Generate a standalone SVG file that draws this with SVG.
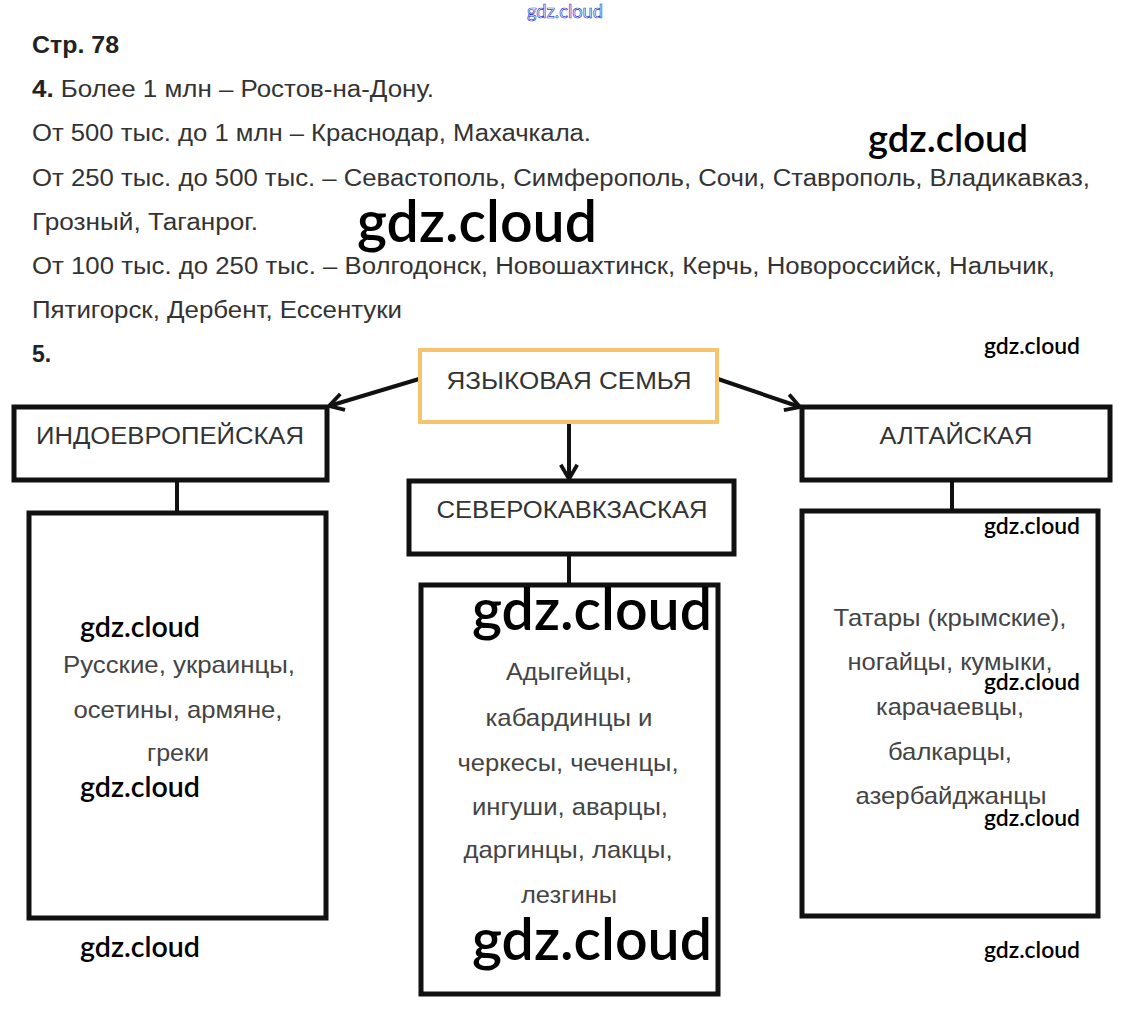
<svg xmlns="http://www.w3.org/2000/svg" width="1129" height="1025" viewBox="0 0 1129 1025">
<style>
  .t{font-family:"Liberation Sans",Arial,sans-serif;font-size:23px;fill:#333}
  .b{font-weight:bold;fill:#222}
  .lbl{font-family:"Liberation Sans",Arial,sans-serif;font-size:23px;fill:#333;text-anchor:middle}
  .in{font-family:"Liberation Sans",Arial,sans-serif;font-size:24px;fill:#444;text-anchor:middle}
  .box{fill:#fff;stroke:#111;stroke-width:5}
  .top{fill:#fff;stroke:#f6c46c;stroke-width:4}
  .con{stroke:#111;stroke-width:4;fill:none}
  .wm{font-family:Lato,"Open Sans",sans-serif;font-weight:600;fill:#000}
</style>
<defs>
  <marker id="ah" viewBox="0 0 12 12" refX="11" refY="6" markerWidth="9" markerHeight="9" markerUnits="userSpaceOnUse" orient="auto" overflow="visible">
    <path d="M-8,-5 L11,6 L-8,17" fill="none" stroke="#111" stroke-width="5" stroke-linejoin="miter"/>
  </marker>
</defs>
<rect width="1129" height="1025" fill="#fff"/>

<text x="527" y="18" font-family="Lato,'Open Sans',sans-serif" font-size="19" fill="#fff" stroke="#3340c8" stroke-width="0.7" textLength="76" lengthAdjust="spacingAndGlyphs">gdz.cloud</text>

<text class="t b" x="32" y="53" textLength="87" lengthAdjust="spacingAndGlyphs">Стр. 78</text>
<text class="t" x="32" y="97" textLength="402" lengthAdjust="spacingAndGlyphs"><tspan class="b">4.</tspan> Более 1 млн – Ростов-на-Дону.</text>
<text class="t" x="32" y="141" textLength="559" lengthAdjust="spacingAndGlyphs">От 500 тыс. до 1 млн – Краснодар, Махачкала.</text>
<text class="t" x="32" y="186" textLength="1058" lengthAdjust="spacingAndGlyphs">От 250 тыс. до 500 тыс. – Севастополь, Симферополь, Сочи, Ставрополь, Владикавказ,</text>
<text class="t" x="32" y="230" textLength="226" lengthAdjust="spacingAndGlyphs">Грозный, Таганрог.</text>
<text class="t" x="32" y="274" textLength="1023" lengthAdjust="spacingAndGlyphs">От 100 тыс. до 250 тыс. – Волгодонск, Новошахтинск, Керчь, Новороссийск, Нальчик,</text>
<text class="t" x="32" y="318" textLength="370" lengthAdjust="spacingAndGlyphs">Пятигорск, Дербент, Ессентуки</text>
<text class="t b" x="32" y="362">5.</text>

<g id="connectors">
  <line class="con" x1="419" y1="379" x2="329" y2="406" marker-end="url(#ah)"/>
  <line class="con" x1="718" y1="379" x2="800" y2="407" marker-end="url(#ah)"/>
  <line class="con" x1="569" y1="423" x2="569" y2="479" marker-end="url(#ah)"/>
  <line class="con" x1="177" y1="480" x2="177" y2="513"/>
  <line class="con" x1="569" y1="554" x2="569" y2="585"/>
  <line class="con" x1="952" y1="480" x2="952" y2="511"/>
</g>

<g id="n-family">
  <rect class="top" x="420" y="350" width="297" height="72"/>
  <text class="lbl" x="569" y="389" textLength="245" lengthAdjust="spacingAndGlyphs">ЯЗЫКОВАЯ СЕМЬЯ</text>
</g>
<g id="n-indo">
  <rect class="box" x="14" y="407" width="313" height="73"/>
  <text class="lbl" x="170" y="444" textLength="268" lengthAdjust="spacingAndGlyphs">ИНДОЕВРОПЕЙСКАЯ</text>
</g>
<g id="n-altai">
  <rect class="box" x="802" y="407" width="308" height="73"/>
  <text class="lbl" x="956" y="444" textLength="153" lengthAdjust="spacingAndGlyphs">АЛТАЙСКАЯ</text>
</g>
<g id="n-nc">
  <rect class="box" x="409" y="481" width="325" height="73"/>
  <text class="lbl" x="572" y="518" textLength="271" lengthAdjust="spacingAndGlyphs">СЕВЕРОКАВКЗАСКАЯ</text>
</g>
<g id="n-indo-list">
  <rect class="box" x="29" y="513" width="297" height="405"/>
  <text class="in" x="179" y="673" textLength="232" lengthAdjust="spacingAndGlyphs">Русские, украинцы,</text>
  <text class="in" x="178" y="718" textLength="209" lengthAdjust="spacingAndGlyphs">осетины, армяне,</text>
  <text class="in" x="178" y="761" textLength="62" lengthAdjust="spacingAndGlyphs">греки</text>
</g>
<g id="n-nc-list">
  <rect class="box" x="421" y="585" width="297" height="409"/>
  <text class="in" x="569" y="680" textLength="126" lengthAdjust="spacingAndGlyphs">Адыгейцы,</text>
  <text class="in" x="569" y="726" textLength="167" lengthAdjust="spacingAndGlyphs">кабардинцы и</text>
  <text class="in" x="568" y="771" textLength="221" lengthAdjust="spacingAndGlyphs">черкесы, чеченцы,</text>
  <text class="in" x="570" y="815" textLength="196" lengthAdjust="spacingAndGlyphs">ингуши, аварцы,</text>
  <text class="in" x="568" y="858" textLength="209" lengthAdjust="spacingAndGlyphs">даргинцы, лакцы,</text>
  <text class="in" x="569" y="903" textLength="96" lengthAdjust="spacingAndGlyphs">лезгины</text>
</g>
<g id="n-altai-list">
  <rect class="box" x="802" y="511" width="296" height="405"/>
  <text class="in" x="950" y="626" textLength="233" lengthAdjust="spacingAndGlyphs">Татары (крымские),</text>
  <text class="in" x="950" y="670" textLength="205" lengthAdjust="spacingAndGlyphs">ногайцы, кумыки,</text>
  <text class="in" x="950" y="715" textLength="148" lengthAdjust="spacingAndGlyphs">карачаевцы,</text>
  <text class="in" x="950" y="760" textLength="124" lengthAdjust="spacingAndGlyphs">балкарцы,</text>
  <text class="in" x="951" y="804" textLength="191" lengthAdjust="spacingAndGlyphs">азербайджанцы</text>
</g>

<g id="watermarks">
  <text class="wm" x="868" y="152" font-size="38" textLength="160" lengthAdjust="spacingAndGlyphs">gdz.cloud</text>
  <text class="wm" x="357" y="242" font-size="57" textLength="240" lengthAdjust="spacingAndGlyphs">gdz.cloud</text>
  <text class="wm" x="984" y="354" font-size="23" textLength="96" lengthAdjust="spacingAndGlyphs">gdz.cloud</text>
  <text class="wm" x="984" y="534" font-size="23" textLength="96" lengthAdjust="spacingAndGlyphs">gdz.cloud</text>
  <text class="wm" x="80" y="637" font-size="28" textLength="120" lengthAdjust="spacingAndGlyphs">gdz.cloud</text>
  <text class="wm" x="472" y="630" font-size="57" textLength="240" lengthAdjust="spacingAndGlyphs">gdz.cloud</text>
  <text class="wm" x="984" y="690" font-size="23" textLength="96" lengthAdjust="spacingAndGlyphs">gdz.cloud</text>
  <text class="wm" x="80" y="797" font-size="28" textLength="120" lengthAdjust="spacingAndGlyphs">gdz.cloud</text>
  <text class="wm" x="984" y="826" font-size="23" textLength="96" lengthAdjust="spacingAndGlyphs">gdz.cloud</text>
  <text class="wm" x="80" y="957" font-size="28" textLength="120" lengthAdjust="spacingAndGlyphs">gdz.cloud</text>
  <text class="wm" x="472" y="960" font-size="57" textLength="240" lengthAdjust="spacingAndGlyphs">gdz.cloud</text>
  <text class="wm" x="984" y="958" font-size="23" textLength="96" lengthAdjust="spacingAndGlyphs">gdz.cloud</text>
</g>
</svg>
